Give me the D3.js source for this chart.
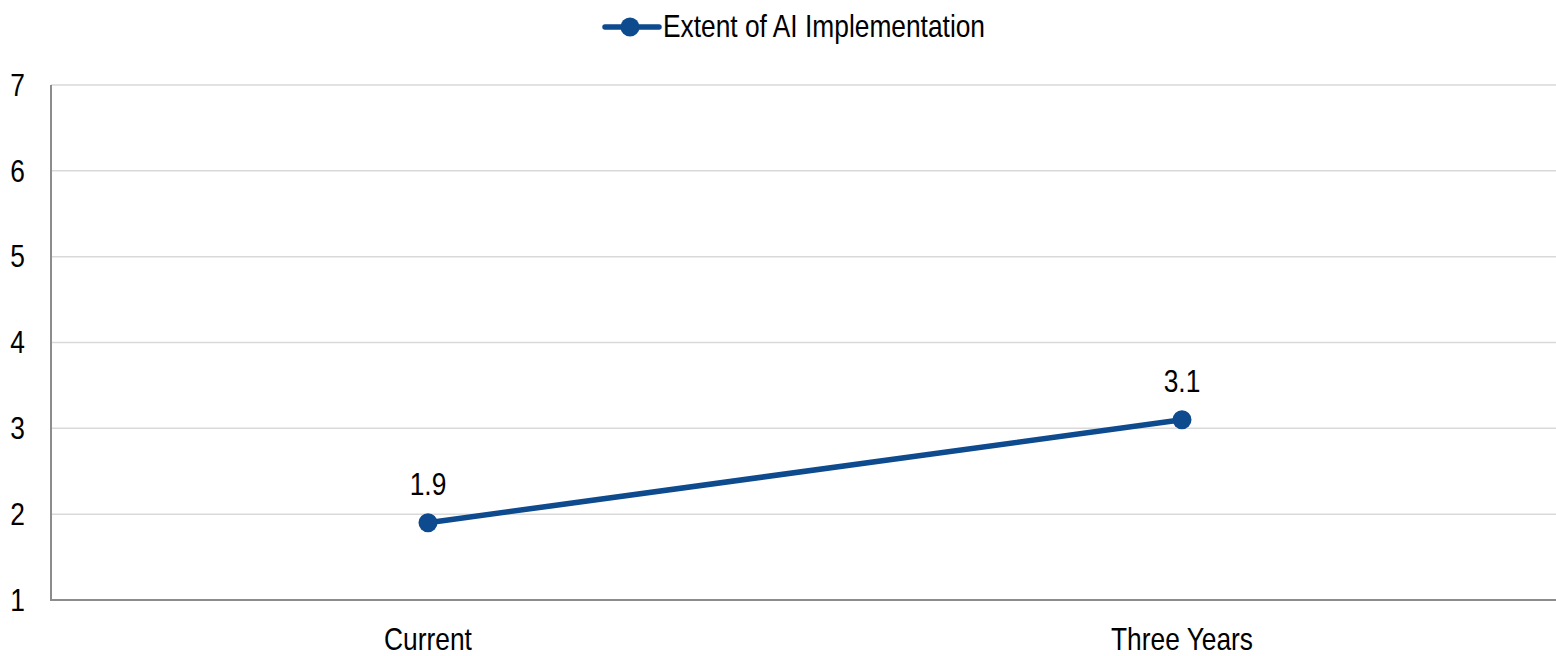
<!DOCTYPE html>
<html>
<head>
<meta charset="utf-8">
<script src="https://cdn.jsdelivr.net/npm/d3@7"></script>
<style>
  html, body { margin: 0; padding: 0; background: #fff; }
  svg { display: block; }
  text { font-family: "Liberation Sans", Arial, sans-serif; fill: #000; }
</style>
</head>
<body>
<svg id="chart" width="1556" height="656"></svg>
<script>
// Survey result: extent of AI implementation, now vs. in three years
const categories = ["Current", "Three Years"];
const seriesName = "Extent of AI Implementation";
const values = [1.9, 3.1];
const yTicks = [1, 2, 3, 4, 5, 6, 7];

const W = 1556, H = 656;
const margin = { top: 85, right: -3, bottom: 56, left: 51 };
const lineColor = "#0e4a8e";
const fontSize = 31;
const squeeze = 0.85;   // condensed glyph width

const svg = d3.select("#chart");

const x = d3.scaleBand()
  .domain(categories)
  .range([margin.left, W - margin.right])
  .paddingInner(0).paddingOuter(0);

const y = d3.scaleLinear()
  .domain([1, 7])
  .range([H - margin.bottom, margin.top]);

// helper: condensed text anchored at (px, py)
function label(g, px, py, str, anchor, baseline) {
  return g.append("text")
    .attr("transform", `translate(${px},${py}) scale(${squeeze},1)`)
    .attr("text-anchor", anchor)
    .attr("dominant-baseline", baseline || "alphabetic")
    .style("font-size", fontSize + "px")
    .text(str);
}

// horizontal gridlines
svg.append("g")
  .selectAll("line")
  .data(yTicks.filter(d => d !== 1))
  .join("line")
  .attr("x1", margin.left).attr("x2", W)
  .attr("y1", d => y(d)).attr("y2", d => y(d))
  .attr("stroke", "#d9d9d9")
  .attr("stroke-width", 1.5);

// axis lines
svg.append("line")
  .attr("x1", margin.left).attr("x2", margin.left)
  .attr("y1", y(7)).attr("y2", y(1))
  .attr("stroke", "#8c8c8c").attr("stroke-width", 2);
svg.append("line")
  .attr("x1", margin.left - 1).attr("x2", W)
  .attr("y1", y(1)).attr("y2", y(1))
  .attr("stroke", "#8c8c8c").attr("stroke-width", 2);

// y tick labels
const yl = svg.append("g");
yTicks.forEach(t => label(yl, 25, y(t), d3.format("d")(t), "end", "central"));

// x category labels
const xl = svg.append("g");
categories.forEach(c => label(xl, x(c) + x.bandwidth() / 2, 650, c, "middle"));

// series line
const pts = categories.map((c, i) => ({ c, v: values[i] }));
const cx = d => x(d.c) + x.bandwidth() / 2;

svg.append("path")
  .datum(pts)
  .attr("fill", "none")
  .attr("stroke", lineColor)
  .attr("stroke-width", 5.5)
  .attr("stroke-linecap", "round")
  .attr("d", d3.line().x(cx).y(d => y(d.v)));

svg.append("g")
  .selectAll("circle")
  .data(pts)
  .join("circle")
  .attr("cx", cx)
  .attr("cy", d => y(d.v))
  .attr("r", 9.5)
  .attr("fill", lineColor);

// value labels
const vl = svg.append("g");
pts.forEach(d => label(vl, cx(d), y(d.v) - 28, d3.format(".1f")(d.v), "middle"));

// legend
const lg = svg.append("g");
lg.append("line")
  .attr("x1", 605).attr("x2", 659)
  .attr("y1", 27).attr("y2", 27)
  .attr("stroke", lineColor).attr("stroke-width", 5.5)
  .attr("stroke-linecap", "round");
lg.append("circle")
  .attr("cx", 630).attr("cy", 27).attr("r", 9.5)
  .attr("fill", lineColor);
label(lg, 663, 37, seriesName, "start");
</script>
</body>
</html>
